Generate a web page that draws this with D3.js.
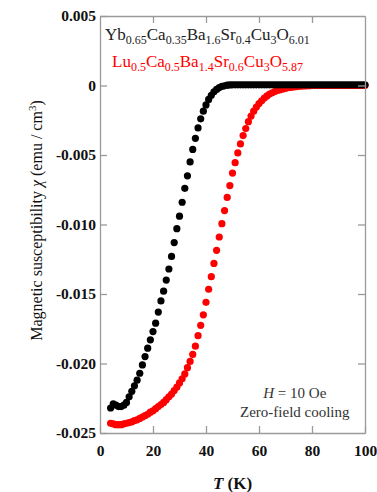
<!DOCTYPE html>
<html>
<head>
<meta charset="utf-8">
<script src="https://cdn.jsdelivr.net/npm/d3@7"></script>
<style>
  body { margin: 0; background: #fff; }
  svg text { font-family: "Liberation Serif", "Times New Roman", Times, "DejaVu Serif", serif !important; }
</style>
</head>
<body>
<div id="chart"></div>
<script>
(function() {
  var W = 377, H = 492;
  var margin = { top: 16, left: 100, right: 12, bottom: 59 },
      width = W - margin.left - margin.right,
      height = H - margin.top - margin.bottom;

  // temperature (K)
  var temps = [4,5,6,7,8,9,10,11,12,13,14,15,16,17,18,19,20,21,22,23,24,25,26,27,28,29,30,
    31,32,33,34,35,36,37,38,39,40,41,42,43,44,45,46,47,48,49,50,51,52,53,54,55,56,57,58,59,60,
    61,62,63,64,65,66,67,68,69,70,71,72,73,74,75,76,77,78,79,80,81,82,83,84,85,86,87,88,89,90,
    91,92,93,94,95,96,97,98,99,100];

  // chi in 1e-3 emu/cm3, Yb0.65Ca0.35Ba1.6Sr0.4Cu3O6.01
  var chiYb = [-23.2,-22.9,-23.0,-23.1,-23.1,-23.0,-22.8,-22.4,-22.0,-21.6,-21.2,-20.7,-20.1,-19.5,
    -18.9,-18.3,-17.7,-17.1,-16.3,-15.5,-14.8,-14.0,-13.2,-12.3,-11.3,-10.3,-9.4,
    -8.4,-7.4,-6.5,-5.5,-4.6,-3.8,-3.05,-2.4,-1.85,-1.4,-1.0,-0.7,-0.45,-0.28,-0.15,-0.07,-0.02,0.02,0.04,
    0.05,0.05,0.05,0.05,0.05,0.05,0.05,0.05,0.05,0.05,0.05,0.05,0.05,0.05,0.05,0.05,0.05,0.05,0.05,0.05,
    0.05,0.05,0.05,0.05,0.05,0.05,0.05,0.05,0.05,0.05,0.05,0.05,0.05,0.05,0.05,0.05,0.05,0.05,0.05,0.05,
    0.05,0.05,0.05,0.05,0.05,0.05,0.05,0.05,0.05,0.05,0.05];

  // chi in 1e-3 emu/cm3, Lu0.5Ca0.5Ba1.4Sr0.6Cu3O5.87
  var chiLu = [-24.3,-24.35,-24.4,-24.4,-24.4,-24.35,-24.3,-24.25,-24.2,-24.1,-24.05,-23.95,-23.85,
    -23.75,-23.65,-23.5,-23.4,-23.25,-23.1,-22.95,-22.8,-22.6,-22.4,-22.2,-21.95,-21.7,-21.4,
    -21.1,-20.75,-20.3,-19.85,-19.35,-18.75,-18.0,-17.25,-16.5,-15.6,-14.66,-13.75,-12.8,-11.86,-10.9,
    -9.94,-9.0,-8.05,-7.2,-6.3,-5.55,-4.85,-4.2,-3.6,-3.1,-2.6,-2.2,-1.85,-1.55,-1.3,
    -1.1,-0.9,-0.75,-0.62,-0.52,-0.43,-0.36,-0.3,-0.25,-0.2,-0.16,-0.13,-0.1,-0.08,-0.06,-0.04,-0.03,-0.02,-0.01,0.0,
    0.0,0.0,0.0,0.0,0.0,0.0,0.0,0.0,0.0,0.0,0.0,0.0,0.0,0.0,0.0,0.0,0.0,0.0,0.0,0.0,0.0];

  var xTicks = [0, 20, 40, 60, 80, 100];
  var yTicks = [0.005, 0, -0.005, -0.010, -0.015, -0.020, -0.025];
  var yTickLabels = ["0.005", "0", "-0.005", "-0.010", "-0.015", "-0.020", "-0.025"];

  var serif = "'Liberation Serif', 'Times New Roman', Times, 'DejaVu Serif', serif";

  var svg = d3.select("#chart")
    .append("svg")
    .attr("width", W)
    .attr("height", H)
    .append("g")
    .attr("transform", "translate(" + margin.left + "," + margin.top + ")");

  var x = d3.scaleLinear().domain([0, 100]).range([0, width]);
  var y = d3.scaleLinear().domain([-0.025, 0.005]).range([height, 0]);

  var frameColour = "#9a9a9a";

  // data points
  var series = [
    { name: "Lu", values: chiLu, colour: "#ff0000" },
    { name: "Yb", values: chiYb, colour: "#000000" }
  ];

  series.forEach(function(s) {
    svg.append("g").selectAll("circle")
      .data(temps.map(function(t, i) { return { t: t, v: s.values[i] / 1000 }; }))
      .enter().append("circle")
      .attr("cx", function(d) { return x(d.t); })
      .attr("cy", function(d) { return y(d.v); })
      .attr("r", 3.6)
      .attr("fill", s.colour);
  });

  // axes with inward ticks on all sides
  function styleAxis(g) {
    g.attr("font-family", serif);
    g.select(".domain").attr("stroke", frameColour).attr("stroke-width", 1.3);
    g.selectAll(".tick line").attr("stroke", frameColour).attr("stroke-width", 1.3);
  }

  var xb = svg.append("g")
    .attr("transform", "translate(0," + height + ")")
    .call(d3.axisBottom(x).tickValues(xTicks).tickSizeInner(-7).tickSizeOuter(0).tickPadding(12))
    .call(styleAxis);
  xb.selectAll("text")
    .style("font-size", "15.5px")
    .style("font-weight", "bold")
    .attr("fill", "#111");

  svg.append("g")
    .call(d3.axisTop(x).tickValues(xTicks.slice(1, 5)).tickSizeInner(-7).tickSizeOuter(0).tickFormat(""))
    .call(styleAxis);

  var yl = svg.append("g")
    .call(d3.axisLeft(y).tickValues(yTicks).tickSizeInner(-7).tickSizeOuter(0).tickPadding(4)
      .tickFormat(function(d, i) { return yTickLabels[i]; }))
    .call(styleAxis);
  yl.selectAll("text")
    .style("font-size", "15.5px")
    .style("font-weight", "bold")
    .attr("fill", "#111");

  svg.append("g")
    .attr("transform", "translate(" + width + ",0)")
    .call(d3.axisRight(y).tickValues(yTicks.slice(1, 6)).tickSizeInner(-7).tickSizeOuter(0).tickFormat(""))
    .call(styleAxis);

  // legend formulas
  function formula(parts, xPos, yPos, colour) {
    var t = svg.append("text")
      .attr("x", xPos)
      .attr("y", yPos)
      .attr("fill", colour)
      .attr("font-family", serif)
      .style("font-size", "17px");
    parts.forEach(function(p, i) {
      t.append("tspan").text(p[0]).attr("dy", i === 0 ? 0 : -4);
      t.append("tspan").text(p[1])
        .attr("dy", 4).style("font-size", "12px");
    });
  }

  formula([["Yb", "0.65"], ["Ca", "0.35"], ["Ba", "1.6"], ["Sr", "0.4"], ["Cu", "3"], ["O", "6.01"]],
    5, 24, "#222");
  formula([["Lu", "0.5"], ["Ca", "0.5"], ["Ba", "1.4"], ["Sr", "0.6"], ["Cu", "3"], ["O", "5.87"]],
    12, 51, "#ff0000");

  // annotation
  var ann = svg.append("text")
    .attr("x", x(73.5))
    .attr("y", 382)
    .attr("text-anchor", "middle")
    .attr("fill", "#333")
    .attr("font-family", serif)
    .style("font-size", "15px");
  ann.append("tspan").text("H").style("font-style", "italic");
  ann.append("tspan").text(" = 10 Oe");

  svg.append("text")
    .attr("x", x(73.5))
    .attr("y", 401)
    .attr("text-anchor", "middle")
    .attr("fill", "#333")
    .attr("font-family", serif)
    .style("font-size", "15px")
    .text("Zero-field cooling");

  // axis titles
  var xt = svg.append("text")
    .attr("x", x(50))
    .attr("y", height + 56)
    .attr("text-anchor", "middle")
    .attr("fill", "#111")
    .attr("font-family", serif)
    .style("font-size", "17px")
    .style("font-weight", "bold");
  xt.append("tspan").text("T").style("font-style", "italic");
  xt.append("tspan").text(" (K)");

  var yt = svg.append("text")
    .attr("transform", "translate(" + (-58) + "," + (height / 2 - 4) + ") rotate(-90)")
    .attr("text-anchor", "middle")
    .attr("fill", "#111")
    .attr("font-family", serif)
    .style("font-size", "16px");
  yt.append("tspan").text("Magnetic susceptibility ");
  yt.append("tspan").text("\u03c7").style("font-style", "italic");
  yt.append("tspan").text(" (emu / cm");
  yt.append("tspan").text("3").attr("dy", -6).style("font-size", "11px");
  yt.append("tspan").text(")").attr("dy", 6);
})();
</script>
</body>
</html>
